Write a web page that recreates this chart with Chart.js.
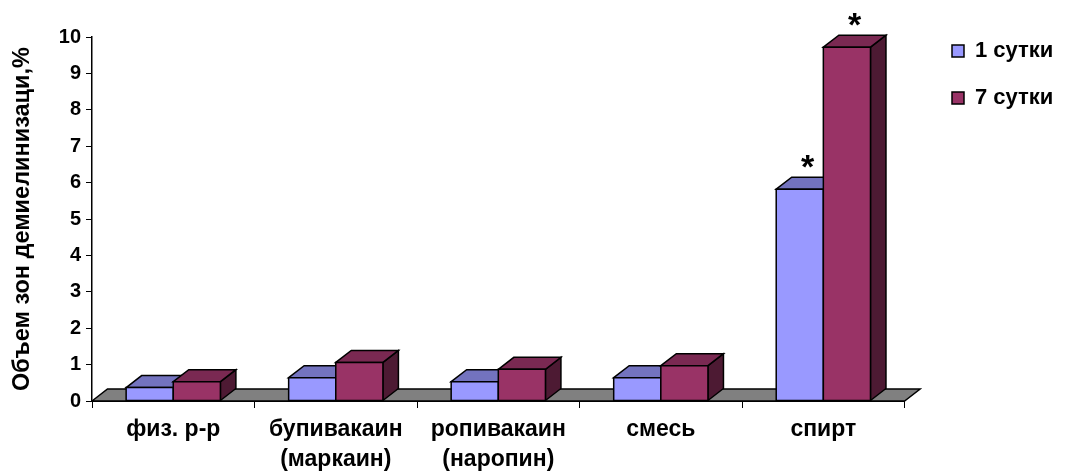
<!DOCTYPE html>
<html>
<head>
<meta charset="utf-8">
<script src="https://cdn.jsdelivr.net/npm/chart.js@4"></script>
<style>
html,body{margin:0;padding:0;background:#fff;}
#wrap{width:1068px;height:472px;position:relative;}
</style>
</head>
<body>
<div id="wrap"><canvas id="c"></canvas></div>
<script>
// ---- data ----
const categories = [["физ. р-р"], ["бупивакаин", "(маркаин)"], ["ропивакаин", "(наропин)"], ["смесь"], ["спирт"]];
const seriesNames = ["1 сутки", "7 сутки"];
const day1 = [0.37, 0.64, 0.53, 0.64, 5.82];
const day7 = [0.53, 1.06, 0.87, 0.97, 9.72];
const day1Marks = ["", "", "", "", "*"];
const day7Marks = ["", "", "", "", "*"];
const yMin = 0, yMax = 10, yStep = 1;
const yTitle = "Объем зон демиелинизаци,%";

// ---- style ----
const FONT = 'Arial, "Liberation Sans", sans-serif';
const depth = {dx: 15.5, dy: 12};
const faceColors = [
  {front: '#9999FF', top: '#7373BF', side: '#4D4D80'},
  {front: '#993366', top: '#7A2952', side: '#4D1A33'}
];
const floorColor = '#808080';
const marks = [day1Marks, day7Marks];

function poly(ctx, pts, fill) {
  ctx.beginPath();
  ctx.moveTo(pts[0][0], pts[0][1]);
  for (let k = 1; k < pts.length; k++) ctx.lineTo(pts[k][0], pts[k][1]);
  ctx.closePath();
  ctx.fillStyle = fill;
  ctx.fill();
  ctx.stroke();
}

const bars3d = {
  id: 'bars3d',
  afterLayout(chart) {
    const lg = chart.legend;
    if (!lg) return;
    const w = lg.width, h = lg.height;
    lg.left = 927; lg.right = 927 + w;
    lg.top = 15; lg.bottom = 15 + h;
  },
  beforeDatasetsDraw(chart) {
    const ctx = chart.ctx, a = chart.chartArea, dx = depth.dx, dy = depth.dy;
    ctx.save();
    ctx.lineWidth = 1.5;
    ctx.strokeStyle = '#000';
    ctx.lineJoin = 'miter';
    poly(ctx, [[a.left, a.bottom], [a.left + dx, a.bottom - dy], [a.right + dx, a.bottom - dy], [a.right, a.bottom]], floorColor);
    const n = chart.data.labels.length;
    const tops = [];
    for (let i = 0; i < n; i++) {
      chart.data.datasets.forEach((ds, d) => {
        const el = chart.getDatasetMeta(d).data[i];
        const p = el.getProps(['x', 'y', 'base', 'width'], true);
        const l = p.x - p.width / 2, r = p.x + p.width / 2, y = p.y, b = p.base;
        const c = faceColors[d];
        poly(ctx, [[r, b], [r + dx, b - dy], [r + dx, y - dy], [r, y]], c.side);
        poly(ctx, [[l, y], [l + dx, y - dy], [r + dx, y - dy], [r, y]], c.top);
        poly(ctx, [[l, b], [l, y], [r, y], [r, b]], c.front);
        if (marks[d][i]) tops.push({x: p.x + dx / 2, y: y - dy - 16, t: marks[d][i]});
      });
    }
    ctx.fillStyle = '#000';
    ctx.font = 'bold 34px ' + FONT;
    ctx.textAlign = 'center';
    ctx.textBaseline = 'alphabetic';
    tops.forEach(m => {
      const mt = ctx.measureText(m.t);
      const asc = mt.actualBoundingBoxAscent, desc = mt.actualBoundingBoxDescent;
      ctx.fillText(m.t, m.x, m.y + (asc - desc) / 2);
    });
    ctx.restore();
    return false;
  }
};

Chart.defaults.font.family = FONT;

new Chart(document.getElementById('c'), {
  type: 'bar',
  data: {
    labels: categories,
    datasets: [
      {label: seriesNames[0], data: day1, backgroundColor: faceColors[0].front, borderColor: '#000', borderWidth: 1.5},
      {label: seriesNames[1], data: day7, backgroundColor: faceColors[1].front, borderColor: '#000', borderWidth: 1.5}
    ]
  },
  options: {
    responsive: true,
    maintainAspectRatio: false,
    animation: false,
    devicePixelRatio: 1,
    categoryPercentage: 0.58,
    barPercentage: 1.0,
    layout: {padding: {left: 0, right: 27, top: 0, bottom: 0}},
    plugins: {
      legend: {
        position: 'right',
        align: 'start',
        labels: {boxWidth: 12, boxHeight: 12, padding: 25, color: '#000', font: {family: FONT, size: 22, weight: 'bold'}}
      },
      tooltip: {enabled: false}
    },
    scales: {
      x: {
        offset: true,
        grid: {display: true, drawOnChartArea: false, drawTicks: true, tickLength: 7, color: '#000', lineWidth: 1, offset: true},
        border: {display: true, color: '#000', width: 1},
        ticks: {color: '#000', font: {family: FONT, size: 23, weight: 'bold', lineHeight: 1.33}, padding: 6, maxRotation: 0, autoSkip: false},
        afterFit(s) { s.height = 71; }
      },
      y: {
        min: yMin, max: yMax,
        ticks: {stepSize: yStep, color: '#000', font: {family: FONT, size: 20, weight: 'bold'}, padding: 5},
        grid: {drawOnChartArea: false, tickLength: 6, color: '#000', lineWidth: 1},
        border: {display: true, color: '#000', width: 1.5},
        title: {display: true, text: yTitle, color: '#000', font: {family: FONT, size: 23.5, weight: 'bold', lineHeight: 1}, padding: {top: 11, bottom: 0}},
        afterFit(s) { s.width = 92; s.paddingTop = 37; }
      }
    }
  },
  plugins: [bars3d]
});
</script>
</body>
</html>
